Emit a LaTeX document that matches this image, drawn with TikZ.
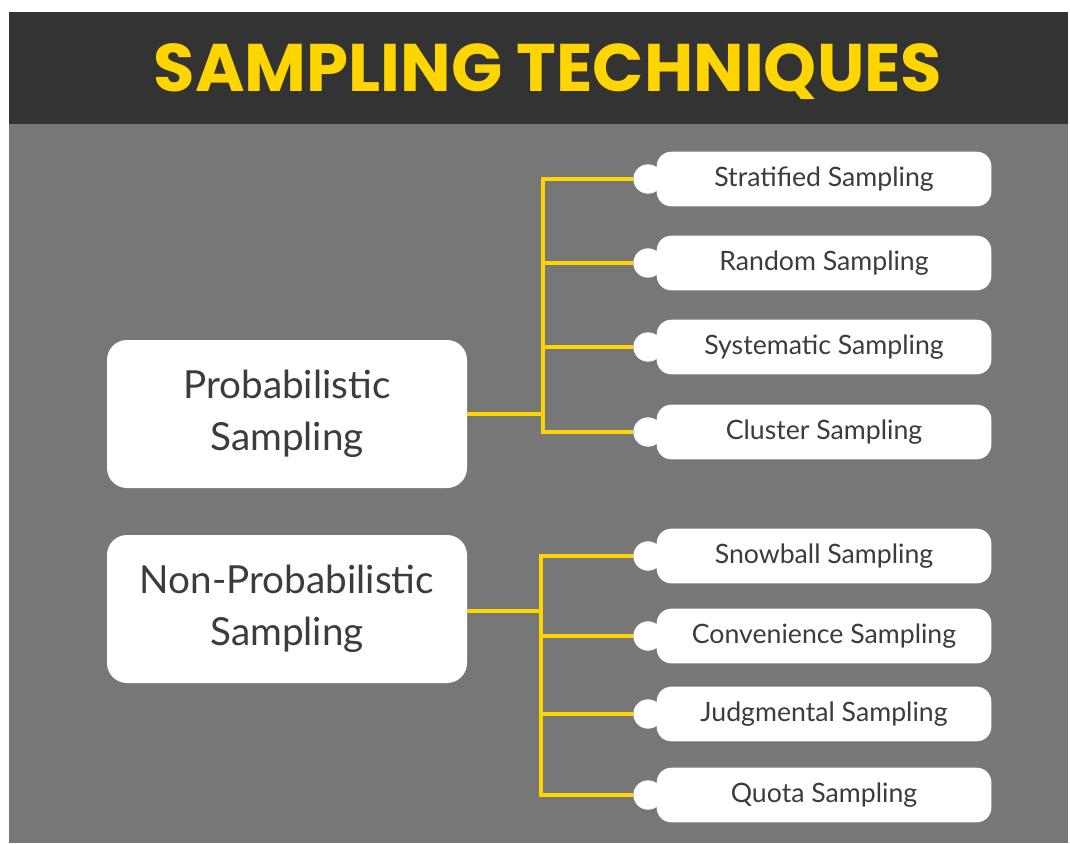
\documentclass[tikz,border=0pt]{standalone}
\usepackage{fontspec}
\setmainfont{Lato}
\newfontfamily\titlefont{Poppins}
\usepackage{xcolor}
\definecolor{headDark}{HTML}{333333}
\definecolor{bodyGray}{HTML}{777777}
\definecolor{branchGold}{HTML}{FFD500}
\definecolor{textGray}{HTML}{3C3C3C}
\usetikzlibrary{positioning,calc}

\begin{document}
\begin{tikzpicture}[
  x=0.75pt, y=-0.75pt,
  font=\fontsize{20}{24}\selectfont,
  groupbox/.style={fill=white,rounded corners=15pt,minimum width=270pt,
                   minimum height=111pt,align=center,text=textGray,
                   font=\fontsize{29}{39}\selectfont},
  leafbox/.style={fill=white,rounded corners=11pt,minimum width=251pt,
                  minimum height=41pt,text=textGray},
  dot/.style={circle,fill=white,minimum size=22pt,inner sep=0pt},
  branch/.style={draw=branchGold,line width=3pt}
]
% background
\fill[white] (0,0) rectangle (1070,843);
\fill[bodyGray] (9,124) rectangle (1068,843);
\fill[headDark] (9,12) rectangle (1068,124);
\node[font=\titlefont\bfseries\fontsize{50.5}{60}\selectfont,text=branchGold] (title) at (548,72) {SAMPLING TECHNIQUES};

% nodes
\node[groupbox] (prob) at (287,414) {Probabilistic\\Sampling};
\node[groupbox] (nonprob) at (287,609) {Non-Probabilistic\\Sampling};

\foreach \name/\ypos/\txt in {strat/179/Stratified Sampling, rand/263/Random Sampling,
    syst/347/Systematic Sampling, clus/432/Cluster Sampling,
    snow/556/Snowball Sampling, conv/636/Convenience Sampling,
    judg/714/Judgmental Sampling, quota/795/Quota Sampling}{
  \node[dot] (\name-dot) at (648,\ypos) {};
  \node[leafbox] (\name) at (824,\ypos) {\txt};
}

% branches
\coordinate (probjoint) at (543,414);
\coordinate (nonjoint) at (541,611);
\foreach \leaf in {strat,rand,syst,clus}
  \draw[branch] (prob.east |- probjoint) -- (probjoint) |- (\leaf-dot.west);
\foreach \leaf in {snow,conv,judg,quota}
  \draw[branch] (nonprob.east |- nonjoint) -- (nonjoint) |- (\leaf-dot.west);
\end{tikzpicture}
\end{document}
